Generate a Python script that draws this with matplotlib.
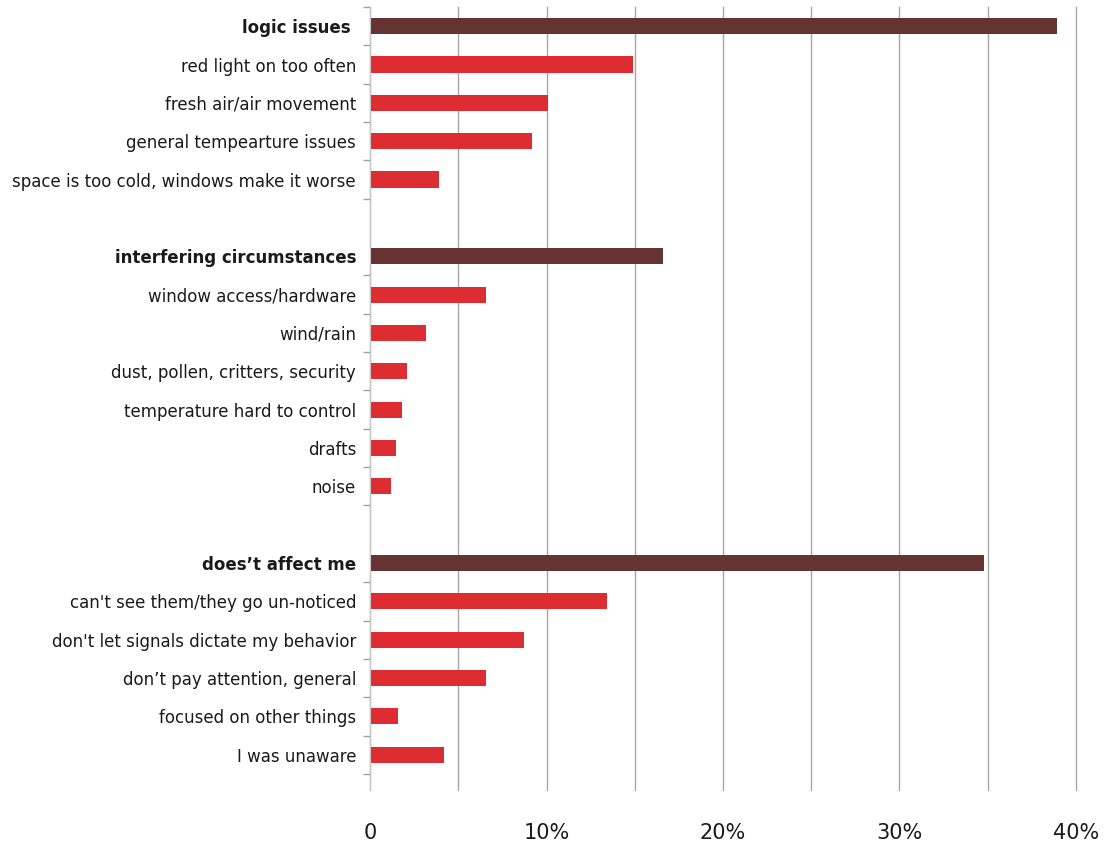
import numpy as np
import matplotlib
matplotlib.use("Agg")
import matplotlib.pyplot as plt
from matplotlib.ticker import FixedLocator, MultipleLocator, FuncFormatter

plt.rcParams["font.family"] = ["DejaVu Sans"]

# Données (en %)
GROUP_LABELS = ["logic issues ", "interfering circumstances", "does’t affect me"]
GROUP_VALUES = [38.9, 16.6, 34.8]

LOGIC_LABELS = ["red light on too often", "fresh air/air movement",
                "general tempearture issues", "space is too cold, windows make it worse"]
LOGIC_VALUES = [14.9, 10.1, 9.2, 3.9]

INTERFERING_LABELS = ["window access/hardware", "wind/rain", "dust, pollen, critters, security",
                      "temperature hard to control", "drafts", "noise"]
INTERFERING_VALUES = [6.6, 3.2, 2.1, 1.8, 1.5, 1.2]

AFFECT_LABELS = ["can't see them/they go un-noticed", "don't let signals dictate my behavior",
                 "don’t pay attention, general", "focused on other things", "I was unaware"]
AFFECT_VALUES = [13.4, 8.7, 6.6, 1.6, 4.2]

X_TICKS = [0, 10, 20, 30, 40]

DARK = "#663333"
RED = "#DE2D32"
GRID = "#A6A6A6"
TEXT = "#1A1A1A"

# Construction des lignes (un créneau vide entre chaque groupe)
rows = []  # (label, value, is_group)
sections = [
    (GROUP_LABELS[0], GROUP_VALUES[0], LOGIC_LABELS, LOGIC_VALUES),
    (GROUP_LABELS[1], GROUP_VALUES[1], INTERFERING_LABELS, INTERFERING_VALUES),
    (GROUP_LABELS[2], GROUP_VALUES[2], AFFECT_LABELS, AFFECT_VALUES),
]
boundaries = []
for s, (g_lab, g_val, labs, vals) in enumerate(sections):
    if s > 0:
        rows.append(("", None, False))
    start = len(rows)
    rows.append((g_lab, g_val, True))
    for lab, val in zip(labs, vals):
        rows.append((lab, val, False))
    end = len(rows)
    # graduations aux limites des catégories (sauf entre vide et en-tête)
    first = start if s == 0 else start + 1
    boundaries.extend([b - 0.5 for b in range(first, end + 1)])

n = len(rows)
pos = np.arange(n)

fig = plt.figure(figsize=(11.04, 8.42), dpi=100)
ax = fig.add_axes([370 / 1104, 1 - 790 / 842, (1076 - 370) / 1104, (790 - 7) / 842])

for y, (lab, val, is_group) in zip(pos, rows):
    if val is None:
        continue
    ax.barh(y, val, height=0.42, color=DARK if is_group else RED, zorder=3)

ax.set_xlim(0, 40)
ax.set_ylim(-0.5 + 20.42, -0.5)

# axe x
ax.xaxis.set_major_locator(FixedLocator(X_TICKS))
ax.xaxis.set_minor_locator(MultipleLocator(5))
ax.xaxis.set_major_formatter(FuncFormatter(lambda v, p: "0" if v == 0 else f"{v:.0f}%"))
ax.tick_params(axis="x", which="both", length=0, pad=24, labelsize=15, labelcolor=TEXT)
ax.grid(axis="x", which="both", color=GRID, linewidth=1, zorder=0)

# axe y
ax.set_yticks(pos)
ax.set_yticklabels([r[0] for r in rows])
ax.yaxis.set_minor_locator(FixedLocator(boundaries))
ax.tick_params(axis="y", which="major", length=0, pad=10, labelsize=12, labelcolor=TEXT)
ax.tick_params(axis="y", which="minor", length=5, color="#A0A0A0", width=1)
for lbl, r in zip(ax.get_yticklabels(), rows):
    if r[2]:
        lbl.set_fontweight("bold")

for side in ["top", "right", "bottom"]:
    ax.spines[side].set_visible(False)
ax.spines["left"].set_color("#C8C8C8")
ax.spines["left"].set_zorder(4)

# la dernière ligne de grille (40%) ne doit pas être coupée
fig.canvas.draw()
for t in ax.xaxis.get_major_ticks() + ax.xaxis.get_minor_ticks():
    t.gridline.set_clip_on(False)

plt.savefig("out.png", dpi=100)
